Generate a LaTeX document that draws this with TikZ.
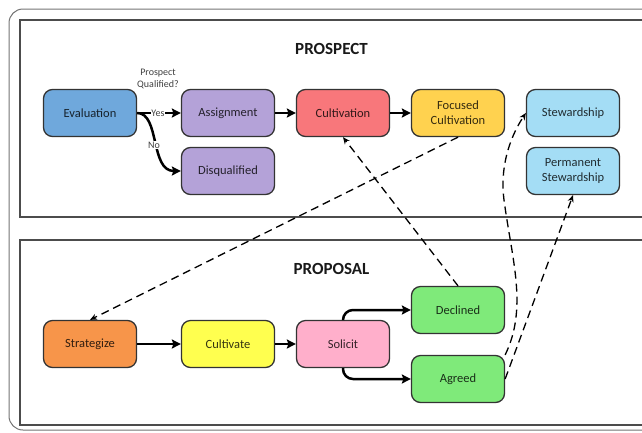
\documentclass[tikz,border=0pt]{standalone}
\usepackage{fontspec}
\setmainfont{Carlito}
\usetikzlibrary{arrows.meta,calc}
\definecolor{cEval}{HTML}{6FA8DC}
\definecolor{cPurple}{HTML}{B4A2D8}
\definecolor{cCult}{HTML}{F8777B}
\definecolor{cFocus}{HTML}{FFD24F}
\definecolor{cStew}{HTML}{A4DDF5}
\definecolor{cStrat}{HTML}{F7954A}
\definecolor{cYellow}{HTML}{FFFF4F}
\definecolor{cPink}{HTML}{FFAFCB}
\definecolor{cGreen}{HTML}{7FEA7A}
\definecolor{cBorder}{HTML}{333333}
\tikzset{
  box/.style={draw=cBorder, line width=1.3pt, rounded corners=9pt,
    minimum width=93pt, minimum height=47pt, align=center,
    text=black, text opacity=0.8,
    font=\fontsize{12.5}{15}\selectfont},
  flow/.style={line width=2.5pt, -{Stealth[length=9pt,width=9pt,inset=1.5pt]}},
  dflow/.style={line width=1.3pt, dash pattern=on 8pt off 5pt,
    -{Stealth[length=7pt,width=6pt]}},
  panel/.style={draw=black!70, line width=1.3pt},
  ttl/.style={font=\fontsize{17}{20}\selectfont\bfseries, text=black!90},
  lbl/.style={font=\fontsize{10}{12}\selectfont, text=black!75, align=center, inner sep=1pt}
}
\begin{document}
\begin{tikzpicture}[x=1pt,y=-1pt]
\useasboundingbox (0,0) rectangle (642,432);
\clip (0,0) rectangle (642,432);
% frames
\draw[draw=black!55, line width=1pt, rounded corners=14pt] (9,9) rectangle (670,430);
\draw[panel] (20,20) rectangle (660,217);
\draw[panel] (20,240) rectangle (660,425);
\node[ttl] (t1) at (331.5,49) {PROSPECT};
\node[ttl] (t2) at (331.5,269) {PROPOSAL};
% prospect nodes
\node[box, fill=cEval] (eval) at (90,113) {Evaluation};
\node[box, fill=cPurple] (assign) at (228,113) {Assignment};
\node[box, fill=cPurple] (disq) at (228,171) {Disqualified};
\node[box, fill=cCult] (cult) at (343,113) {Cultivation};
\node[box, fill=cFocus] (focus) at (458,113) {Focused\\Cultivation};
\node[box, fill=cStew] (stew) at (573,113) {Stewardship};
\node[box, fill=cStew] (perm) at (573,171) {Permanent\\Stewardship};
% proposal nodes
\node[box, fill=cStrat] (strat) at (90,344) {Strategize};
\node[box, fill=cYellow] (cultv) at (228,344) {Cultivate};
\node[box, fill=cPink] (solicit) at (343,344) {Solicit};
\node[box, fill=cGreen] (decl) at (458,310) {Declined};
\node[box, fill=cGreen] (agreed) at (458,379) {Agreed};
% labels
\node[lbl] (q) at (158,79) {Prospect\\Qualified?};
% solid arrows
\draw[flow] (eval.east) -- (assign.west);
\node[lbl, fill=white, inner sep=0.5pt] (yes) at (158,113) {Yes};
\draw[flow] (eval.east) .. controls (160,113) and (150,171) .. (disq.west);
\node[lbl, fill=white] (no) at (154,145) {No};
\draw[flow] (assign) -- (cult);
\draw[flow] (cult) -- (focus);
\draw[flow] (strat) -- (cultv);
\draw[flow] (cultv) -- (solicit);
\draw[flow, rounded corners=10pt] (solicit.north) |- (decl.west);
\draw[flow, rounded corners=10pt] (solicit.south) |- (agreed.west);
% dashed arrows
\draw[dflow] (focus.south) -- (strat.north);
\draw[dflow] (decl.north) -- (cult.south);
\coordinate (mid) at (504,200);
\draw[dflow] (agreed.north east) .. controls (528,308) and (512,260) .. (mid)
  .. controls (500,170) and (508,140) .. (stew.west);
\draw[dflow] (agreed.east) -- (perm.south);
\end{tikzpicture}
\end{document}
